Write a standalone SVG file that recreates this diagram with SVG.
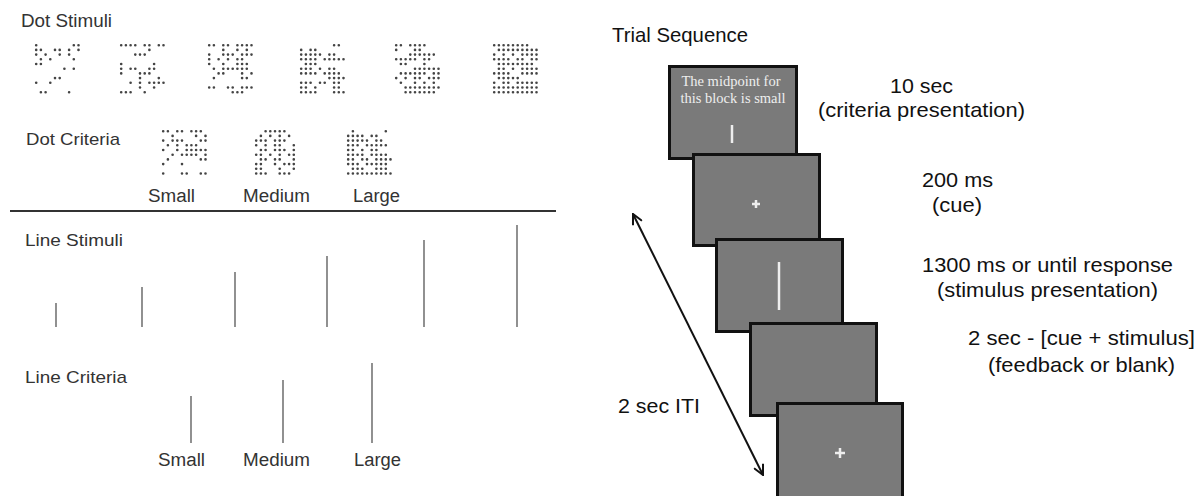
<svg xmlns="http://www.w3.org/2000/svg" width="1201" height="496" viewBox="0 0 1201 496">
<style>
.lt{font-family:"Liberation Sans",Arial,sans-serif;fill:#333}
.rt{font-family:"Liberation Sans",Arial,sans-serif;fill:#111;font-size:21px}
.dots{fill:none;stroke:#444;stroke-width:0.56;stroke-linecap:round}
.ln{stroke:#555;stroke-width:1.3}
.scr{fill:#7a7a7a;stroke:#111;stroke-width:3}
.wt{stroke:#eee;stroke-width:2.5;fill:none}
.st{font-family:"Liberation Serif","Times New Roman",serif;fill:#eee;font-size:14.5px}
</style>
<defs>
<marker id="ah" viewBox="0 0 12 12" refX="11" refY="6" markerWidth="12" markerHeight="12" markerUnits="userSpaceOnUse" orient="auto-start-reverse">
<path d="M1 1 L11 6 L1 11" fill="none" stroke="#111" stroke-width="2"/>
</marker>
</defs>
<rect width="1201" height="496" fill="#fff"/>

<g id="dot-stimuli">
<text class="lt" x="21" y="27" font-size="18" textLength="91" lengthAdjust="spacingAndGlyphs">Dot Stimuli</text>
<path class="dots" transform="translate(36.2,45.2) scale(4.7)" d="M0 0h0M8 0h0M9 0h0M0 1h0M1 1h0M4 1h0M5 1h0M7 1h0M9 1h0M0 2h0M2 2h0M5 2h0M7 2h0M1 3h0M3 3h0M8 3h0M0 4h0M1 4h0M6 5h0M8 5h0M4 7h0M5 7h0M0 8h0M3 8h0M1 10h0M2 10h0M7 10h0"/>
<path class="dots" transform="translate(121.2,45.2) scale(4.7)" d="M0 0h0M1 0h0M2 0h0M3 0h0M5 0h0M6 0h0M8 0h0M9 0h0M6 1h0M3 2h0M4 2h0M5 2h0M0 4h0M7 4h0M0 5h0M2 5h0M3 5h0M6 5h0M7 5h0M0 6h0M4 6h0M5 6h0M6 6h0M4 7h0M8 7h0M2 8h0M4 8h0M6 8h0M7 8h0M8 8h0M9 8h0M4 9h0M7 9h0M0 10h0M1 10h0M2 10h0M5 10h0"/>
<path class="dots" transform="translate(209.2,45.2) scale(4.7)" d="M0 0h0M1 0h0M3 0h0M4 0h0M6 0h0M7 0h0M8 0h0M9 0h0M3 1h0M6 1h0M8 1h0M0 2h0M3 2h0M4 2h0M5 2h0M7 2h0M8 2h0M9 2h0M0 3h0M2 3h0M4 3h0M6 3h0M7 3h0M0 4h0M3 4h0M6 4h0M7 4h0M8 4h0M1 5h0M3 5h0M4 5h0M5 5h0M6 5h0M7 5h0M8 5h0M2 6h0M3 6h0M7 6h0M9 6h0M1 7h0M7 7h0M8 7h0M0 9h0M1 9h0M4 9h0M5 9h0M7 9h0M8 9h0M9 9h0M5 10h0M6 10h0M7 10h0"/>
<path class="dots" transform="translate(301.2,45.2) scale(4.7)" d="M7 0h0M8 0h0M0 1h0M2 1h0M3 1h0M0 2h0M1 2h0M2 2h0M3 2h0M4 2h0M6 2h0M7 2h0M0 3h0M1 3h0M2 3h0M3 3h0M5 3h0M6 3h0M7 3h0M8 3h0M9 3h0M1 4h0M2 4h0M3 4h0M0 5h0M1 5h0M2 5h0M4 5h0M6 5h0M7 5h0M0 6h0M1 6h0M2 6h0M3 6h0M5 6h0M6 6h0M7 6h0M8 6h0M6 7h0M7 7h0M8 7h0M9 7h0M0 8h0M1 8h0M2 8h0M4 8h0M5 8h0M7 8h0M8 8h0M0 9h0M1 9h0M3 9h0M7 9h0M8 9h0M0 10h0M1 10h0M2 10h0M3 10h0M7 10h0M8 10h0M9 10h0"/>
<path class="dots" transform="translate(396.2,45.2) scale(4.7)" d="M0 0h0M1 0h0M3 0h0M4 0h0M5 0h0M6 0h0M0 1h0M4 1h0M5 1h0M3 2h0M4 2h0M5 2h0M6 2h0M7 2h0M8 2h0M0 3h0M1 3h0M2 3h0M3 3h0M4 3h0M6 3h0M7 3h0M1 4h0M2 4h0M6 4h0M4 5h0M5 5h0M6 5h0M7 5h0M8 5h0M9 5h0M1 6h0M2 6h0M3 6h0M4 6h0M5 6h0M6 6h0M8 6h0M9 6h0M0 7h0M2 7h0M4 7h0M5 7h0M7 7h0M8 7h0M9 7h0M1 8h0M4 8h0M6 8h0M8 8h0M2 9h0M3 9h0M4 9h0M5 9h0M6 9h0M7 9h0M8 9h0M9 9h0M2 10h0M3 10h0M4 10h0M5 10h0M6 10h0M7 10h0M8 10h0"/>
<path class="dots" transform="translate(494.2,45.2) scale(4.7)" d="M0 0h0M1 0h0M2 0h0M3 0h0M4 0h0M5 0h0M6 0h0M7 0h0M1 1h0M2 1h0M3 1h0M4 1h0M5 1h0M6 1h0M7 1h0M8 1h0M9 1h0M0 2h0M2 2h0M4 2h0M6 2h0M7 2h0M8 2h0M9 2h0M0 3h0M1 3h0M2 3h0M3 3h0M5 3h0M6 3h0M8 3h0M9 3h0M1 4h0M2 4h0M3 4h0M4 4h0M5 4h0M6 4h0M7 4h0M8 4h0M1 5h0M2 5h0M4 5h0M6 5h0M7 5h0M8 5h0M9 5h0M0 6h0M1 6h0M2 6h0M3 6h0M6 6h0M7 6h0M8 6h0M9 6h0M1 7h0M2 7h0M3 7h0M4 7h0M5 7h0M0 8h0M2 8h0M3 8h0M5 8h0M6 8h0M7 8h0M8 8h0M9 8h0M0 9h0M1 9h0M2 9h0M3 9h0M4 9h0M5 9h0M6 9h0M7 9h0M8 9h0M9 9h0M0 10h0M1 10h0M2 10h0M3 10h0M4 10h0M5 10h0M6 10h0M7 10h0M8 10h0M9 10h0"/>
</g>

<g id="dot-criteria">
<text class="lt" x="26" y="145" font-size="17" textLength="94" lengthAdjust="spacingAndGlyphs">Dot Criteria</text>
<path class="dots" transform="translate(163.2,131.2) scale(4.7)" d="M0 0h0M1 0h0M3 0h0M4 0h0M6 0h0M7 0h0M8 0h0M2 1h0M7 1h0M9 1h0M0 2h0M2 2h0M3 2h0M4 2h0M8 2h0M9 2h0M1 3h0M3 3h0M5 3h0M6 3h0M7 3h0M0 4h0M3 4h0M5 4h0M6 4h0M7 4h0M8 4h0M9 4h0M2 5h0M4 5h0M5 5h0M6 5h0M7 5h0M9 5h0M1 6h0M8 6h0M9 6h0M0 7h0M4 7h0M0 9h0M4 9h0M5 9h0M8 9h0M9 9h0"/>
<path class="dots" transform="translate(256.2,131.2) scale(4.7)" d="M2 0h0M3 0h0M4 0h0M5 0h0M6 0h0M1 1h0M3 1h0M5 1h0M7 1h0M0 2h0M1 2h0M2 2h0M4 2h0M5 2h0M6 2h0M0 3h0M2 3h0M4 3h0M5 3h0M8 3h0M1 4h0M2 4h0M4 4h0M5 4h0M6 4h0M8 4h0M0 5h0M1 5h0M3 5h0M5 5h0M7 5h0M8 5h0M1 6h0M2 6h0M4 6h0M5 6h0M8 6h0M0 7h0M1 7h0M4 7h0M6 7h0M7 7h0M8 7h0M0 8h0M1 8h0M5 8h0M8 8h0M0 9h0M1 9h0M2 9h0M5 9h0M6 9h0M7 9h0"/>
<path class="dots" transform="translate(348.2,131.2) scale(4.7)" d="M1 0h0M8 0h0M0 1h0M1 1h0M2 1h0M3 1h0M5 1h0M6 1h0M0 2h0M1 2h0M2 2h0M3 2h0M4 2h0M6 2h0M7 2h0M0 3h0M1 3h0M2 3h0M4 3h0M5 3h0M6 3h0M7 3h0M8 3h0M0 4h0M1 4h0M3 4h0M5 4h0M6 4h0M0 5h0M1 5h0M2 5h0M3 5h0M5 5h0M6 5h0M7 5h0M8 5h0M0 6h0M1 6h0M3 6h0M4 6h0M6 6h0M7 6h0M8 6h0M9 6h0M0 7h0M1 7h0M2 7h0M4 7h0M5 7h0M6 7h0M7 7h0M8 7h0M1 8h0M2 8h0M3 8h0M6 8h0M7 8h0M8 8h0M0 9h0M1 9h0M2 9h0M3 9h0M4 9h0M5 9h0M6 9h0M7 9h0M8 9h0M9 9h0"/>
<text class="lt" x="148" y="202" font-size="18" textLength="47" lengthAdjust="spacingAndGlyphs">Small</text>
<text class="lt" x="243" y="202" font-size="18" textLength="67" lengthAdjust="spacingAndGlyphs">Medium</text>
<text class="lt" x="353" y="202" font-size="18" textLength="47" lengthAdjust="spacingAndGlyphs">Large</text>
</g>

<g id="divider">
<line x1="10" y1="211" x2="556" y2="211" stroke="#333" stroke-width="2"/>
</g>

<g id="line-stimuli">
<text class="lt" x="25" y="246" font-size="17" textLength="98" lengthAdjust="spacingAndGlyphs">Line Stimuli</text>
<line class="ln" x1="56" y1="303" x2="56" y2="327"/>
<line class="ln" x1="142" y1="287" x2="142" y2="327"/>
<line class="ln" x1="235" y1="272" x2="235" y2="327"/>
<line class="ln" x1="327" y1="256" x2="327" y2="327"/>
<line class="ln" x1="424" y1="240" x2="424" y2="327"/>
<line class="ln" x1="517" y1="225" x2="517" y2="327"/>
</g>

<g id="line-criteria">
<text class="lt" x="25" y="383" font-size="17" textLength="102" lengthAdjust="spacingAndGlyphs">Line Criteria</text>
<line class="ln" x1="191" y1="396" x2="191" y2="443"/>
<line class="ln" x1="283" y1="380" x2="283" y2="443"/>
<line class="ln" x1="372" y1="363" x2="372" y2="443"/>
<text class="lt" x="158" y="466" font-size="18" textLength="47" lengthAdjust="spacingAndGlyphs">Small</text>
<text class="lt" x="243" y="466" font-size="18" textLength="67" lengthAdjust="spacingAndGlyphs">Medium</text>
<text class="lt" x="354" y="466" font-size="18" textLength="47" lengthAdjust="spacingAndGlyphs">Large</text>
</g>

<g id="trial-title">
<text class="rt" x="612" y="42" textLength="136" lengthAdjust="spacingAndGlyphs">Trial Sequence</text>
</g>

<g id="screen-criteria">
<rect class="scr" x="669.5" y="66.5" width="127" height="92"/>
<text class="st" x="731" y="86" text-anchor="middle">The midpoint for</text>
<text class="st" x="733" y="103" text-anchor="middle">this block is small</text>
<line class="wt" x1="732" y1="125" x2="732" y2="143" stroke-width="3"/>
</g>
<g id="screen-cue">
<rect class="scr" x="693.5" y="154.5" width="126" height="91"/>
<path class="wt" d="M752 204h8M756 200v8" stroke-width="2"/>
</g>
<g id="screen-stimulus">
<rect class="scr" x="716.5" y="239.5" width="126" height="92"/>
<line class="wt" x1="779" y1="262" x2="779" y2="310" stroke-width="3"/>
</g>
<g id="screen-feedback">
<rect class="scr" x="750.5" y="323.5" width="126" height="92"/>
</g>
<g id="screen-iti">
<rect class="scr" x="777.5" y="403.5" width="125" height="96"/>
<path class="wt" d="M835 453h10M840 448v10" stroke-width="2"/>
</g>

<g id="labels">
<text class="rt" x="890" y="93" textLength="63" lengthAdjust="spacingAndGlyphs">10 sec</text>
<text class="rt" x="818" y="117" textLength="207" lengthAdjust="spacingAndGlyphs">(criteria presentation)</text>
<text class="rt" x="922" y="187" textLength="71" lengthAdjust="spacingAndGlyphs">200 ms</text>
<text class="rt" x="932" y="212" textLength="50" lengthAdjust="spacingAndGlyphs">(cue)</text>
<text class="rt" x="922" y="272" textLength="251" lengthAdjust="spacingAndGlyphs">1300 ms or until response</text>
<text class="rt" x="937" y="297" textLength="221" lengthAdjust="spacingAndGlyphs">(stimulus presentation)</text>
<text class="rt" x="968" y="345" textLength="227" lengthAdjust="spacingAndGlyphs">2 sec - [cue + stimulus]</text>
<text class="rt" x="988" y="372" textLength="187" lengthAdjust="spacingAndGlyphs">(feedback or blank)</text>
<text class="rt" x="618" y="413" textLength="82" lengthAdjust="spacingAndGlyphs">2 sec ITI</text>
</g>

<g id="connectors">
<line x1="633" y1="214" x2="763" y2="475" stroke="#111" stroke-width="2" marker-start="url(#ah)" marker-end="url(#ah)"/>
</g>
</svg>
